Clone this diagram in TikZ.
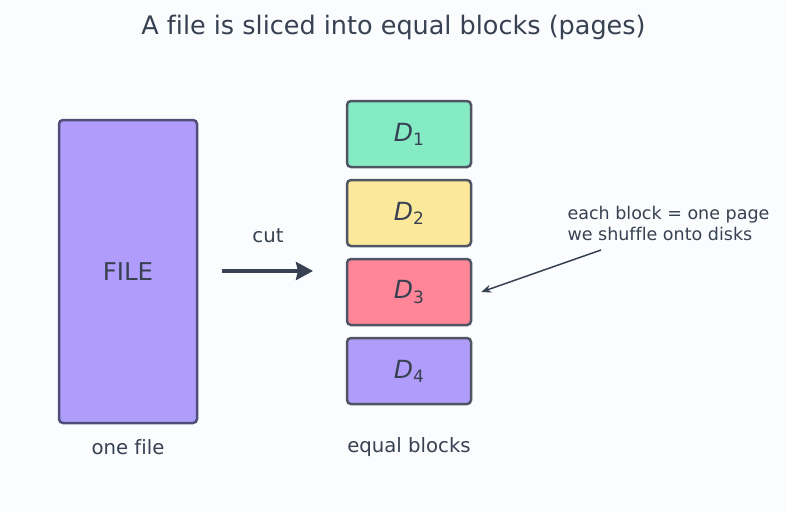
\documentclass[tikz,border=0pt]{standalone}
\usepackage{fontspec}
\setmainfont{DejaVu Sans}[Ligatures=NoCommon]
\usetikzlibrary{arrows.meta, positioning}

\definecolor{bgcol}{HTML}{FBFCFE}
\definecolor{inkcol}{HTML}{374151}
\definecolor{edgecol}{HTML}{4F5563}
\definecolor{fileedge}{HTML}{4F4E78}
\definecolor{tealcol}{HTML}{84EBC4}
\definecolor{yellowcol}{HTML}{FCE89A}
\definecolor{pinkcol}{HTML}{FF8599}
\definecolor{purplecol}{HTML}{B09CFA}

\newcommand{\blk}[1]{\textit{D}\raisebox{-0.3ex}{\fontsize{17}{17}\selectfont #1}}

\begin{document}
\begin{tikzpicture}[
    x=1pt, y=-1pt,
    file node/.style={draw=fileedge, fill=purplecol, line width=2.5pt, rounded corners=4pt,
        minimum width=138pt, minimum height=303pt, text=inkcol, font=\fontsize{24.5}{24.5}\selectfont},
    block node/.style={draw=edgecol, line width=2.5pt, rounded corners=4pt,
        minimum width=124pt, minimum height=66pt, text=inkcol, font=\fontsize{25}{25}\selectfont},
    label node/.style={text=inkcol, font=\fontsize{19.7}{19.7}\selectfont},
    >=Stealth
]
    \fill[bgcol] (0,0) rectangle (787,512);
    \useasboundingbox (0,0) rectangle (787,512);

    % Title
    \node[text=inkcol, font=\fontsize{25.5}{25.5}\selectfont] (title) at (393.5,27) {A file is sliced into equal blocks (pages)};

    % The file
    \node[file node] (file) at (128,271.5) {FILE};
    \node[label node] (file_lbl) at (128,447) {one file};

    % Cut arrow
    \coordinate (cut_start) at (222,271);
    \coordinate (cut_end) at (313,271);
    \draw[draw=inkcol, line width=4pt, -{Stealth[length=17pt, width=18pt, inset=2pt]}] (cut_start) -- (cut_end);
    \node[label node] (cut_lbl) at (268,236) {cut};

    % Blocks
    \node[block node, fill=tealcol] (d1) at (409,134) {\blk{1}};
    \node[block node, fill=yellowcol] (d2) at (409,213) {\blk{2}};
    \node[block node, fill=pinkcol] (d3) at (409,292) {\blk{3}};
    \node[block node, fill=purplecol] (d4) at (409,371) {\blk{4}};
    \node[label node] (blocks_lbl) at (409,447) {equal blocks};

    % Annotation
    \node[text=inkcol, font=\fontsize{17.5}{21}\selectfont, align=left, anchor=north west] (note) at (564,203)
        {each block = one page\\we shuffle onto disks};
    \coordinate (note_tail) at (601,250);
    \draw[draw=inkcol, line width=1.5pt, -{Stealth[length=10pt, width=8pt]}] (note_tail) -- ([xshift=9pt]d3.east);
\end{tikzpicture}
\end{document}
